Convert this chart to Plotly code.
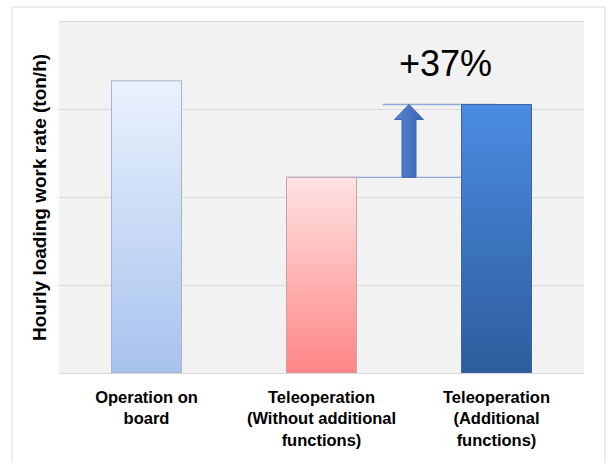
import plotly.graph_objects as go

# ---- data ----
categories = ["Operation on<br>board",
              "Teleoperation<br>(Without additional<br>functions)",
              "Teleoperation<br>(Additional<br>functions)"]
work_rate = [3.33, 2.23, 3.06]
y_ticks = [0, 1, 2, 3, 4]
increase_label = "+37%"

# gradient colours (bottom, top) for each bar
bar_bottom = ["#A7C2EE", "#FF8585", "#2E5C9C"]
bar_top = ["#EAF2FD", "#FFE3E3", "#4A8CE2"]
bar_edge = ["#A9B4C6", "#C8A3A3", "#3E64A0"]

FONT = "Liberation Sans, Arial, sans-serif"
half_w = 0.2

fig = go.Figure()

# connecting horizontal lines (behind bars)
fig.add_trace(go.Scatter(x=[1 - half_w, 2 + half_w], y=[work_rate[1], work_rate[1]],
                         mode="lines", line=dict(color="#8FAADC", width=1.3),
                         hoverinfo="skip", showlegend=False))
fig.add_trace(go.Scatter(x=[1.35, 2], y=[work_rate[2], work_rate[2]],
                         mode="lines", line=dict(color="#8FAADC", width=1.3),
                         hoverinfo="skip", showlegend=False))

# bars with vertical gradient
for i, v in enumerate(work_rate):
    xs = [i - half_w, i + half_w, i + half_w, i - half_w, i - half_w]
    ys = [0, 0, v, v, 0]
    fig.add_trace(go.Scatter(
        x=xs, y=ys, mode="lines", fill="toself",
        line=dict(color=bar_edge[i], width=1),
        fillgradient=dict(type="vertical",
                          colorscale=[[0, bar_bottom[i]], [1, bar_top[i]]]),
        hoverinfo="skip", showlegend=False))

# block arrow from bar 2 level to bar 3 level
ax = 1.5
shaft = 0.04
head = 0.083
head_h = 15 / 87.75
y0, y1 = work_rate[1], work_rate[2]
arrow_x = [ax - shaft, ax + shaft, ax + shaft, ax + head, ax, ax - head, ax - shaft, ax - shaft]
arrow_y = [y0, y0, y1 - head_h, y1 - head_h, y1, y1 - head_h, y1 - head_h, y0]
fig.add_trace(go.Scatter(
    x=arrow_x, y=arrow_y, mode="lines", fill="toself",
    line=dict(color="#3E66AE", width=1),
    fillgradient=dict(type="horizontal", colorscale=[[0, "#5585D4"], [1, "#3A66B4"]]),
    hoverinfo="skip", showlegend=False))

fig.add_annotation(x=1.71, y=3.53, text=increase_label, showarrow=False,
                   font=dict(family=FONT, size=36, color="#000000"),
                   xanchor="center", yanchor="middle")

# outer chart border
fig.add_shape(type="rect", xref="paper", yref="paper",
              x0=-0.0895, x1=1.04, y0=-0.3, y1=1.0427,
              line=dict(color="#D9D9D9", width=1), fillcolor="rgba(0,0,0,0)",
              layer="below")

fig.update_layout(
    width=608, height=463,
    margin=dict(l=59, r=24, t=22, b=90),
    paper_bgcolor="#FFFFFF",
    plot_bgcolor="#F2F2F2",
    showlegend=False,
    font=dict(family=FONT, color="#000000"),
    xaxis=dict(
        range=[-0.5, 2.5],
        tickmode="array", tickvals=[0, 1, 2], ticktext=[f"<b>{c}</b>" for c in categories],
        tickfont=dict(family=FONT, size=16.5, color="#000000"),
        showgrid=False, zeroline=False,
        showline=True, linecolor="#D9D9D9", linewidth=1, mirror=True,
        ticks="", ticklabelstandoff=9, fixedrange=True,
    ),
    yaxis=dict(
        range=[0, 4], tickvals=y_ticks, showticklabels=False,
        showgrid=True, gridcolor="#D9D9D9", gridwidth=1,
        zeroline=False, showline=False, ticks="",
        title=dict(text="<b>Hourly loading work rate (ton/h)</b>",
                   font=dict(family=FONT, size=19, color="#000000"), standoff=6),
        fixedrange=True,
    ),
)

fig.write_html("out.html")
